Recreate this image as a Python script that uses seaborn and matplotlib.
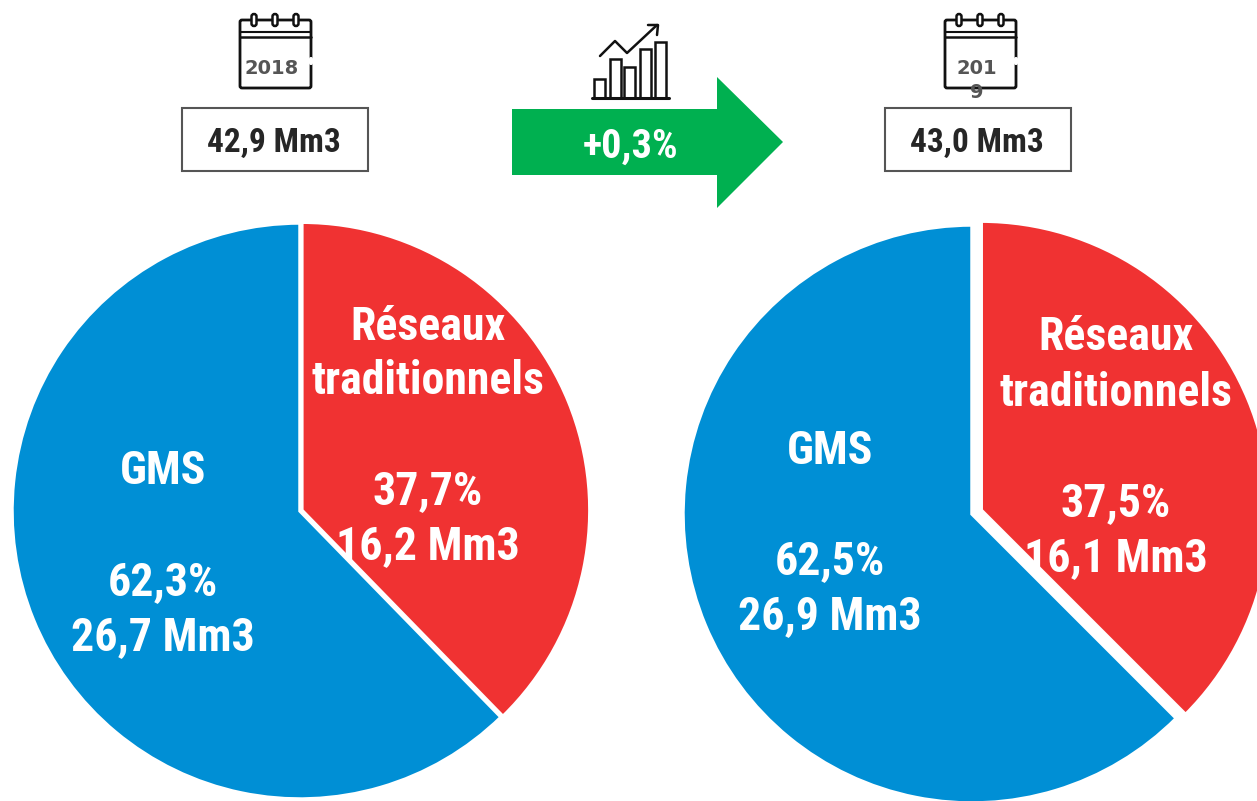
import matplotlib
matplotlib.use('Agg')
import matplotlib.pyplot as plt
from matplotlib.patches import Polygon, Rectangle, FancyBboxPatch
import seaborn as sns

# Data
categories = ['Réseaux\ntraditionnels', 'GMS']
shares_2018 = [37.7, 62.3]
shares_2019 = [37.5, 62.5]
labels_2018 = ['37,7%\n16,2 Mm3', '62,3%\n26,7 Mm3']
labels_2019 = ['37,5%\n16,1 Mm3', '62,5%\n26,9 Mm3']
totals = ['42,9 Mm3', '43,0 Mm3']
growth = '+0,3%'
years = ['2018', '201\n9']

W, H = 1257, 801
RED = '#F03232'
BLUE = '#008FD5'
GREEN = '#00B050'
NARROW = ['Roboto Condensed', 'Liberation Sans', 'DejaVu Sans']

sns.set_theme(style='white')
plt.rcParams['font.family'] = NARROW

fig = plt.figure(figsize=(W / 100, H / 100), dpi=100)
ax = fig.add_axes([0, 0, 1, 1])


def fy(y):
    # picture pixels count from the top, the axes from the bottom
    return H - y


def big_text(x, y, s, color='white', size=33, step=55):
    # each line is placed by itself so the spacing follows the reference
    for i, line in enumerate(s.split('\n')):
        ax.text(x, fy(y + i * step), line, color=color, fontsize=size, fontweight='bold',
                ha='center', va='center_baseline')


def calendar(x0, year):
    x1 = x0 + 71
    ax.add_patch(FancyBboxPatch((x0, fy(88)), 71, 68, boxstyle='round,pad=0,rounding_size=2',
                                fc='white', ec='#111111', lw=2))
    ax.plot([x0, x1], [fy(32), fy(32)], color='#111111', lw=1.5)
    ax.plot([x0, x1], [fy(37), fy(37)], color='#111111', lw=1.8)
    ax.plot([x1, x1], [fy(59), fy(63)], color='white', lw=3)
    for dx in (14, 35, 56):
        ax.add_patch(FancyBboxPatch((x0 + dx - 2.5, fy(26)), 5, 12,
                                    boxstyle='round,pad=0,rounding_size=2.5',
                                    fc='white', ec='#111111', lw=1.8))
    for i, line in enumerate(year.split('\n')):
        ax.text(x0 + 32, fy(68 + i * 24), line, color='#555555', fontsize=14,
                fontweight='bold', family='DejaVu Sans', ha='center', va='center',
                zorder=5)


def total_box(x0, s):
    ax.add_patch(Rectangle((x0, fy(171)), 186, 63, fc='white', ec='#555555', lw=1.5))
    big_text(x0 + 92, 139, s, color='#262626', size=24)


def chart_icon():
    ax.plot([592, 669], [fy(98), fy(98)], color='#111111', lw=2.2)
    for x0, top in [(594, 79), (610, 59), (624, 67), (640, 49), (655, 42)]:
        ax.add_patch(Rectangle((x0, fy(98)), 11, 98 - top, fc='white', ec='#111111', lw=1.8))
    ax.plot([600, 615, 627, 657], [fy(56), fy(41), fy(53), fy(25)], color='#111111', lw=1.8)
    ax.plot([648, 658, 657], [fy(25), fy(25), fy(35)], color='#111111', lw=1.8)


def pie_panel(shares, center, radius, explode):
    ax.pie(shares, colors=[RED, BLUE], startangle=90, counterclock=False,
           center=(center[0], fy(center[1])), radius=radius, explode=explode,
           frame=True, wedgeprops={'edgecolor': 'white', 'linewidth': 2.5})


# Pies
pie_panel(shares_2018, (300, 511), 288, [2, 0])
pie_panel(shares_2019, (972, 514), 289, [10, 0])

# Pie labels
big_text(428, 322, categories[0])
big_text(428, 487, labels_2018[0])
big_text(163, 467, categories[1])
big_text(163, 578, labels_2018[1])

big_text(1116, 333, categories[0])
big_text(1116, 499, labels_2019[0])
big_text(830, 446, categories[1])
big_text(830, 557, labels_2019[1])

# Header
calendar(240, years[0])
calendar(945, years[1])
total_box(182, totals[0])
total_box(885, totals[1])
chart_icon()
ax.add_patch(Polygon([(512, fy(109)), (717, fy(109)), (717, fy(77)), (783, fy(142)),
                      (717, fy(208)), (717, fy(175)), (512, fy(175))], fc=GREEN, ec='none'))
big_text(631, 143, growth, size=29)

ax.set_xlim(0, W)
ax.set_ylim(0, H)
ax.set_aspect('equal')
ax.axis('off')
sns.despine(ax=ax, left=True, bottom=True)

fig.savefig('out.png', dpi=100)
